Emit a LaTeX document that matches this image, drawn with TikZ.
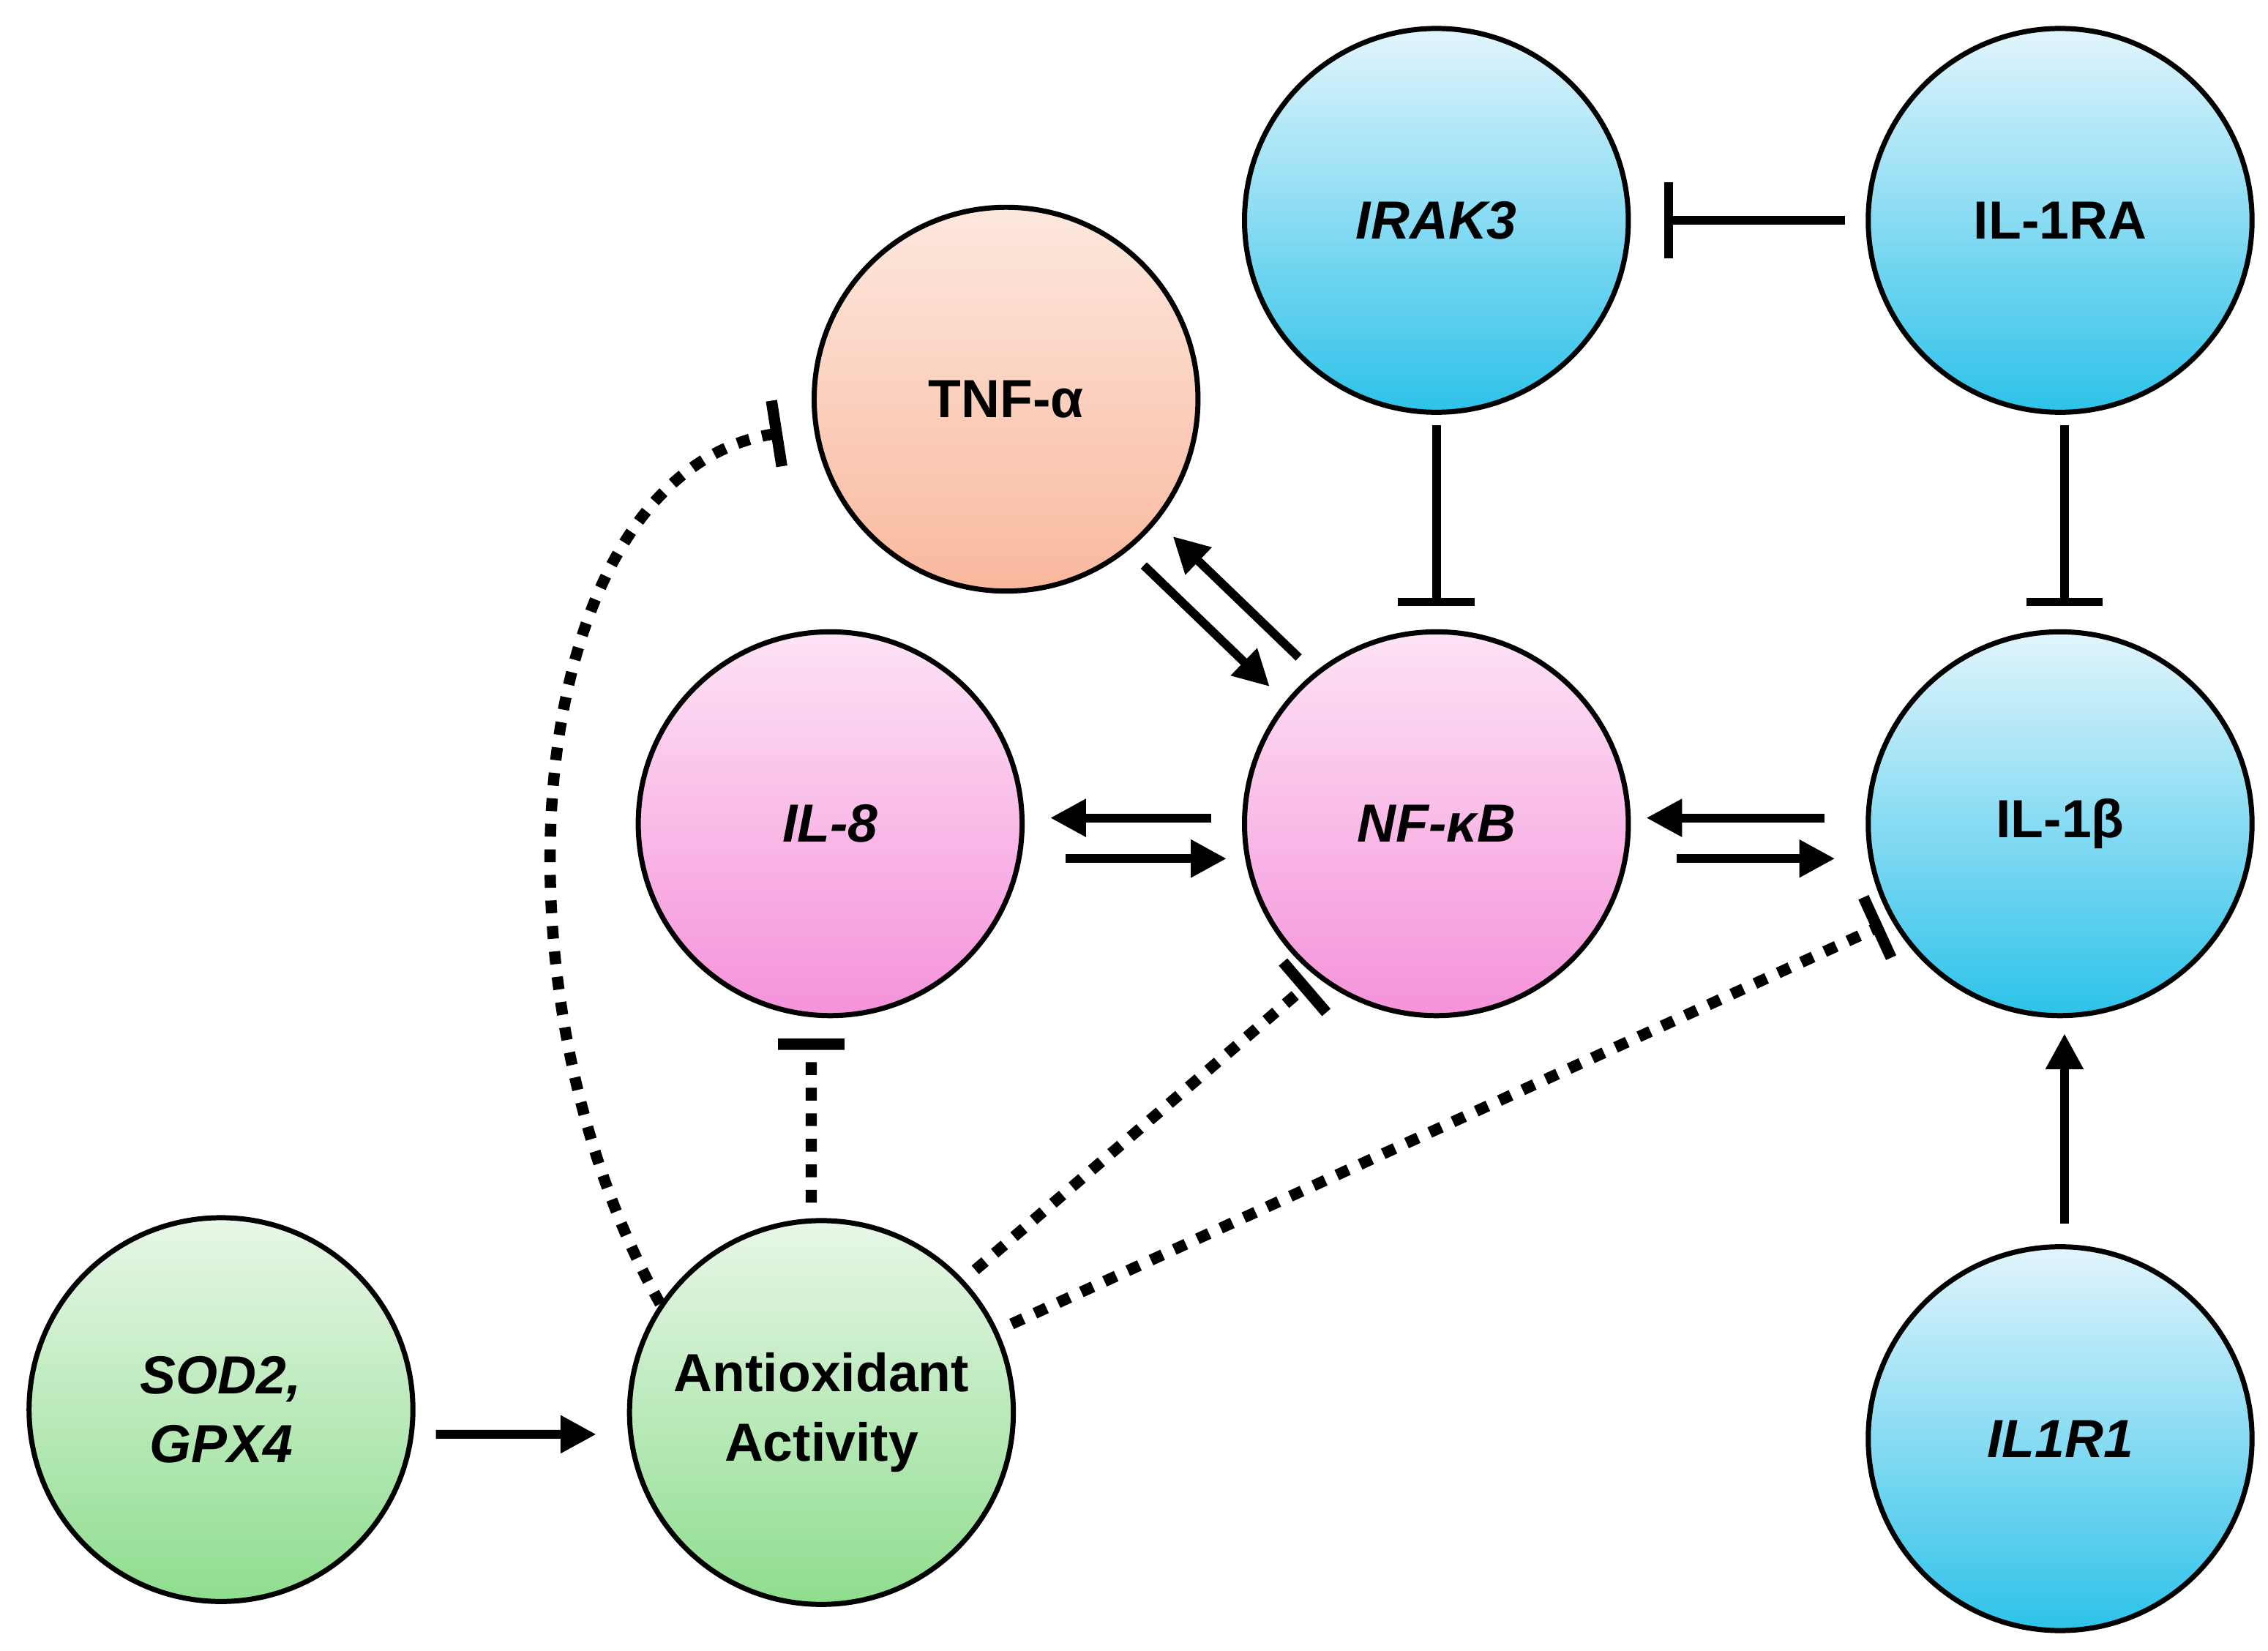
\documentclass[tikz,border=0pt]{standalone}
\usepackage{fontspec}
\setmainfont{Liberation Sans}
\usetikzlibrary{arrows.meta,calc}
\definecolor{bT}{HTML}{E2F5FC}\definecolor{bB}{HTML}{2DC2E9}
\definecolor{pT}{HTML}{FDE3F5}\definecolor{pB}{HTML}{F592DA}
\definecolor{oT}{HTML}{FDE8DE}\definecolor{oB}{HTML}{F9B89D}
\definecolor{gT}{HTML}{E8F7E8}\definecolor{gB}{HTML}{8EDD8E}
\tikzset{
 c/.style={circle,draw=black,line width=1pt,minimum size=2.64cm,inner sep=0pt,align=center,
   font=\fontsize{10.5}{13.5}\selectfont\bfseries},
 blue/.style={c,top color=bT,bottom color=bB},
 pink/.style={c,top color=pT,bottom color=pB},
 orng/.style={c,top color=oT,bottom color=oB},
 grn/.style={c,top color=gT,bottom color=gB},
 arr/.style={line width=1.7pt,-{Triangle[length=7pt,width=7pt]}},
 inh/.style={line width=1.7pt,-{Bar[width=15pt,line width=1.7pt]}},
 dinh/.style={line width=2.2pt,dash pattern=on 2.5pt off 2.5pt,-{Bar[width=13pt,line width=2.2pt]}},
}
\begin{document}
\begin{tikzpicture}
\useasboundingbox (0,0) rectangle (15.6,11.356);
\node[blue] (IRAK3) at (9.88,9.84) {\itshape IRAK3};
\node[blue] (IL1RA) at (14.17,9.84) {IL-1RA};
\node[orng] (TNF) at (6.92,8.61) {TNF-α};
\node[pink] (IL8) at (5.71,5.69) {\itshape IL-8};
\node[pink] (NFKB) at (9.88,5.69) {\itshape NF-κB};
\node[blue] (IL1B) at (14.17,5.69) {IL-1β};
\node[grn] (SOD) at (1.52,1.66) {\itshape SOD2,\\\itshape GPX4};
\node[grn] (AO) at (5.65,1.64) {Antioxidant\\Activity};
\node[blue] (IL1R1) at (14.17,1.46) {\itshape IL1R1};
\coordinate (tnfbar) at (5.38,8.38);
% solid
\draw[inh,shorten <=4pt,shorten >=6.5pt] (IL1RA) -- (IRAK3);
\draw[inh,shorten <=2pt,shorten >=4.5pt] (IRAK3) -- (NFKB);
\draw[inh,shorten <=2pt,shorten >=4.5pt] ([xshift=0.03cm]IL1RA.south) -- ([xshift=0.03cm]IL1B.north);
\draw[arr,shorten <=4pt,shorten >=4pt] ([shift={(0.1,0.1)}]NFKB.135) -- ([shift={(0.1,0.1)}]TNF.-45);
\draw[arr,shorten <=4pt,shorten >=4pt] ([shift={(-0.1,-0.1)}]TNF.-45) -- ([shift={(-0.1,-0.1)}]NFKB.135);
\draw[arr,shorten <=6pt,shorten >=5pt] ([yshift=0.04cm]NFKB.west) -- ([yshift=0.04cm]IL8.east);
\draw[arr,shorten <=8pt,shorten >=3pt] ([yshift=-0.24cm]IL8.east) -- ([yshift=-0.24cm]NFKB.west);
\draw[arr,shorten <=8pt,shorten >=3pt] ([yshift=0.04cm]IL1B.west) -- ([yshift=0.04cm]NFKB.east);
\draw[arr,shorten <=9pt,shorten >=6pt] ([yshift=-0.24cm]NFKB.east) -- ([yshift=-0.24cm]IL1B.west);
\draw[arr,shorten <=4pt,shorten >=3pt] ([xshift=0.03cm]IL1R1.north) -- ([xshift=0.03cm]IL1B.south);
\draw[arr,shorten <=4pt,shorten >=6pt] ([yshift=-0.17cm]SOD.east) -- ([yshift=-0.15cm]AO.west);
% dotted
\draw[dinh] (AO.146) .. controls (3.3,4.6) and (3.6,8.1) .. (tnfbar);
\draw[dinh,shorten <=3pt,shorten >=4pt] ([xshift=-0.07cm]AO.north) -- ([xshift=-0.13cm]IL8.south);
\draw[dinh,shorten <=3pt,shorten >=2pt] (AO.43) -- (NFKB.-128);
\draw[dinh,shorten <=3pt,shorten >=2pt] (AO.25) -- (IL1B.-150);
\end{tikzpicture}
\end{document}
